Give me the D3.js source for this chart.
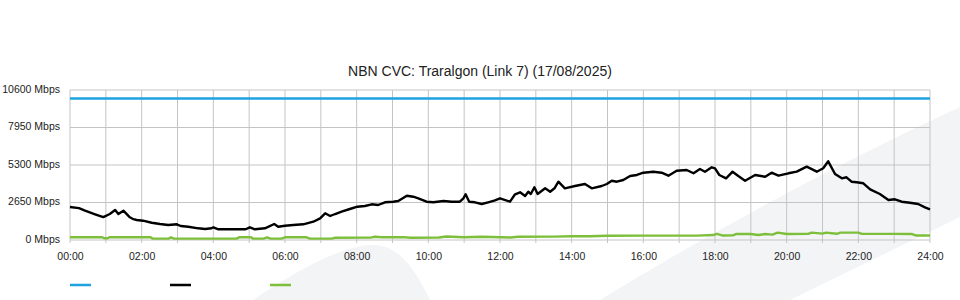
<!DOCTYPE html>
<html>
<head>
<meta charset="utf-8">
<script src="https://cdn.jsdelivr.net/npm/d3@7"></script>
<style>
    body { margin: 0; background: #fff; }
    svg { display: block; font-family: 'Liberation Sans', Arial, sans-serif; }
</style>
</head>
<body>
<div id="chart"></div>
<script>
// chart data, hours of day (0-24) and Mbps
const title = 'NBN CVC: Traralgon (Link 7) (17/08/2025)';
const yTicks = [0, 2650, 5300, 7950, 10600];
const xTicks = [0, 2, 4, 6, 8, 10, 12, 14, 16, 18, 20, 22, 24];

const capacityHours = [0, 24];
const capacityValues = [10000, 10000];

const trafficHours = [
    0.00, 0.25, 0.42, 0.70, 0.93, 1.11, 1.26, 1.35, 1.49, 1.67, 1.77, 1.86, 2.04, 2.28, 2.51, 2.74, 2.98, 3.09,
    3.30, 3.58, 3.77, 3.95, 4.00, 4.14, 4.50, 4.90, 5.02, 5.16, 5.44, 5.70, 5.81, 6.00, 6.23, 6.51, 6.79, 6.98,
    7.12, 7.26, 7.40, 7.58, 7.81, 8.02, 8.23, 8.42, 8.60, 8.79, 9.02, 9.16, 9.40, 9.58, 9.72, 9.95, 10.14, 10.42,
    10.65, 10.88, 10.98, 11.04, 11.14, 11.30, 11.49, 11.67, 11.86, 12.00, 12.28, 12.42, 12.56, 12.70, 12.79, 12.86,
    12.96, 13.05, 13.26, 13.40, 13.52, 13.63, 13.81, 14.09, 14.37, 14.56, 14.84, 14.98, 15.12, 15.26, 15.44, 15.63,
    15.82, 16.00, 16.28, 16.51, 16.70, 16.93, 17.21, 17.40, 17.58, 17.72, 17.91, 18.00, 18.12, 18.31, 18.49, 18.65,
    18.84, 19.12, 19.40, 19.58, 19.77, 20.05, 20.28, 20.56, 20.84, 21.02, 21.16, 21.35, 21.54, 21.67, 21.81, 21.95,
    22.14, 22.33, 22.60, 22.84, 23.02, 23.21, 23.44, 23.67, 23.86, 24.00
];
const trafficValues = [
    2330, 2250, 2070, 1816, 1620, 1837, 2120, 1837, 2070, 1604, 1470, 1413, 1364, 1222, 1130, 1060, 1109, 990,
    940, 826, 777, 830, 897, 756, 756, 760, 897, 756, 826, 1130, 940, 1010, 1060, 1109, 1293, 1533,
    1887, 1696, 1837, 2000, 2191, 2353, 2403, 2523, 2473, 2664, 2707, 2756, 3131, 3060, 2947, 2707, 2664, 2756,
    2707, 2707, 2947, 3230, 2707, 2664, 2544, 2664, 2800, 2947, 2707, 3230, 3371, 3109, 3413, 3250,
    3724, 3250, 3653, 3413, 3653, 4120, 3653, 3816, 3957, 3653, 3816, 3957, 4190, 4120, 4240, 4523,
    4594, 4756, 4827, 4756, 4544, 4898, 4947, 4714, 5017, 4827, 5138, 5067, 4594, 4360, 4827, 4523,
    4190, 4594, 4473, 4756, 4544, 4714, 4827, 5180, 4827, 5067, 5560, 4664, 4360, 4431, 4120, 4077,
    4007, 3583, 3250, 2827, 2876, 2707, 2636, 2544, 2311, 2170
];

const otherHours = [
    0, 0.9, 0.95, 1.05, 1.1, 2.25, 2.3, 2.75, 2.82, 2.9, 4.65, 4.72, 5.05, 5.1, 5.4, 5.5, 5.6, 5.9, 6.0, 6.6,
    6.7, 7.3, 7.4, 8.4, 8.5, 8.7, 9.3, 9.5, 10.3, 10.5, 11.0, 11.5, 12.3, 12.5, 13.5, 14.0, 14.5, 15.0, 16.0, 17.5,
    17.95, 18.05, 18.2, 18.5, 18.6, 19.0, 19.2, 19.4, 19.6, 19.75, 20.0, 20.6, 20.7, 21.0, 21.1, 21.4, 21.5, 22.0,
    22.1, 23.0, 23.5, 23.6, 24
];
const otherValues = [
    190, 190, 120, 120, 190, 190, 100, 100, 180, 100, 100, 190, 190, 100, 100, 180, 100, 100, 190, 190,
    100, 100, 160, 170, 230, 190, 200, 160, 180, 250, 190, 230, 180, 230, 240, 260, 270, 300, 310, 310,
    350, 430, 320, 330, 430, 420, 350, 420, 380, 520, 420, 430, 520, 450, 520, 440, 520, 520,
    430, 430, 420, 320, 320
];

const width = 960;
const height = 300;
const margin = { top: 90, right: 30, bottom: 60, left: 70 };
const plotW = width - margin.left - margin.right;
const plotH = height - margin.top - margin.bottom;

const svg = d3.select('#chart').append('svg')
    .attr('width', width)
    .attr('height', height);

// background watermark
const mark = svg.append('g').attr('fill', '#f3f4f6');
mark.append('path')
    .attr('d', 'M600,300 Q780,190 960,107 L960,217 L790,300 Z');
mark.append('path')
    .attr('d', 'M253,300 C290,275 340,245 373,245 C395,245 412,262 430,300 Z');

const x = d3.scaleLinear().domain([0, 24]).range([margin.left, margin.left + plotW]);
const y = d3.scaleLinear().domain([0, 10600]).range([margin.top + plotH, margin.top]);

// grid
const grid = svg.append('g').attr('stroke', '#c4c4c4').attr('stroke-width', 1);
grid.selectAll('line.v')
    .data(d3.range(0, 25))
    .enter().append('line')
    .attr('class', 'v')
    .attr('x1', d => x(d))
    .attr('x2', d => x(d))
    .attr('y1', margin.top)
    .attr('y2', margin.top + plotH + 3);
grid.selectAll('line.h')
    .data(yTicks)
    .enter().append('line')
    .attr('class', 'h')
    .attr('x1', margin.left)
    .attr('x2', margin.left + plotW)
    .attr('y1', d => y(d))
    .attr('y2', d => y(d));

// axes
const yAxis = svg.append('g')
    .attr('transform', 'translate(' + (margin.left - 10) + ',0)')
    .call(d3.axisLeft(y).tickValues(yTicks).tickSize(0).tickPadding(0)
        .tickFormat(d => d + ' Mbps'));
yAxis.select('.domain').remove();
yAxis.selectAll('text')
    .attr('dy', null)
    .attr('y', 2)
    .attr('fill', '#222')
    .style('font-size', '10.5px')
    .style('font-family', "'Liberation Sans', Arial, sans-serif");

const xAxis = svg.append('g')
    .attr('transform', 'translate(0,' + (margin.top + plotH) + ')')
    .call(d3.axisBottom(x).tickValues(xTicks).tickSize(0).tickPadding(0)
        .tickFormat(d => d3.format('02d')(d) + ':00'));
xAxis.select('.domain').remove();
xAxis.selectAll('text')
    .attr('dy', null)
    .attr('y', 20)
    .attr('fill', '#222')
    .style('font-size', '10.5px')
    .style('font-family', "'Liberation Sans', Arial, sans-serif");

// title
svg.append('text')
    .attr('x', width / 2)
    .attr('y', 76)
    .attr('text-anchor', 'middle')
    .attr('fill', '#222')
    .style('font-size', '14px')
    .text(title);

// series
const series = [
    { hours: capacityHours, values: capacityValues, color: '#1ea3e0' },
    { hours: trafficHours, values: trafficValues, color: '#000000' },
    { hours: otherHours, values: otherValues, color: '#7dbf3a' }
];

const line = d3.line()
    .x(d => x(d[0]))
    .y(d => y(d[1]));

series.forEach(function (s) {
    svg.append('path')
        .datum(d3.zip(s.hours, s.values))
        .attr('fill', 'none')
        .attr('stroke', s.color)
        .attr('stroke-width', 2.4)
        .attr('stroke-linejoin', 'round')
        .attr('d', line);
});

// legend swatches
svg.selectAll('line.legend')
    .data(series)
    .enter().append('line')
    .attr('class', 'legend')
    .attr('x1', (d, i) => 70 + i * 100)
    .attr('x2', (d, i) => 91 + i * 100)
    .attr('y1', 285)
    .attr('y2', 285)
    .attr('stroke', d => d.color)
    .attr('stroke-width', 2.5);
</script>
</body>
</html>
